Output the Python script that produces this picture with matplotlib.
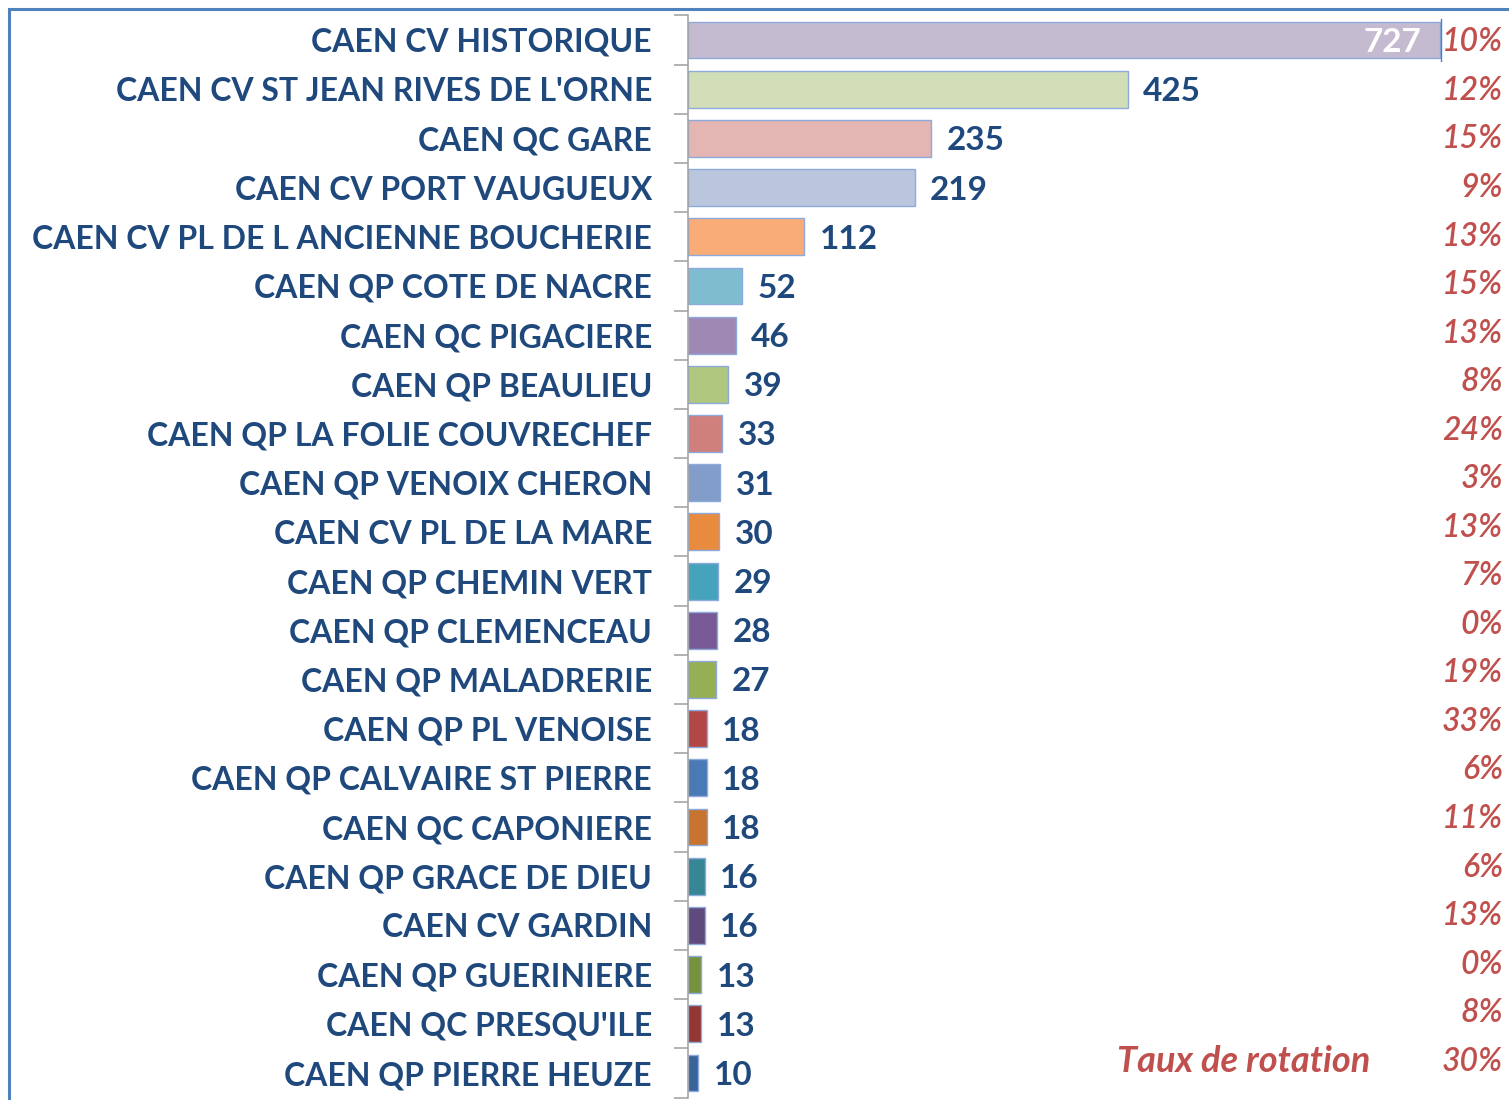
import matplotlib.pyplot as plt
from matplotlib.patches import Rectangle
from matplotlib.transforms import blended_transform_factory

categories = [
    "CAEN CV HISTORIQUE", "CAEN CV ST JEAN RIVES DE L'ORNE", "CAEN QC GARE",
    "CAEN CV PORT VAUGUEUX", "CAEN CV PL DE L ANCIENNE BOUCHERIE",
    "CAEN QP COTE DE NACRE", "CAEN QC PIGACIERE", "CAEN QP BEAULIEU",
    "CAEN QP LA FOLIE COUVRECHEF", "CAEN QP VENOIX CHERON", "CAEN CV PL DE LA MARE",
    "CAEN QP CHEMIN VERT", "CAEN QP CLEMENCEAU", "CAEN QP MALADRERIE",
    "CAEN QP PL VENOISE", "CAEN QP CALVAIRE ST PIERRE", "CAEN QC CAPONIERE",
    "CAEN QP GRACE DE DIEU", "CAEN CV GARDIN", "CAEN QP GUERINIERE",
    "CAEN QC PRESQU'ILE", "CAEN QP PIERRE HEUZE",
]
values = [727, 425, 235, 219, 112, 52, 46, 39, 33, 31, 30, 29, 28, 27,
          18, 18, 18, 16, 16, 13, 13, 10]
rotation = ["10%", "12%", "15%", "9%", "13%", "15%", "13%", "8%", "24%", "3%",
            "13%", "7%", "0%", "19%", "33%", "6%", "11%", "6%", "13%", "0%",
            "8%", "30%"]
bar_colors = [
    "#C4BBD1", "#D1DEB8", "#E3B5B3", "#B9C6DE", "#F9AC78", "#7EBCD0",
    "#9E89B4", "#AFC77F", "#CF7F7C", "#829DC9", "#E88B3F", "#45A4BC",
    "#775A95", "#94AF54", "#B14846", "#4A7AB5", "#C6742F", "#368696",
    "#5F4A7E", "#76923C", "#943634", "#38649A",
]

NAVY = "#1F497D"
RED = "#C0504D"
FONT = "Lato"

W, H = 1509, 1100
fig = plt.figure(figsize=(W / 100, H / 100), dpi=100)

# outer blue frame (cut at right / bottom like the source)
fig.patches.append(Rectangle((9 / W, -0.05), 1.1, (H - 9) / H + 0.05,
                             transform=fig.transFigure, fill=False,
                             edgecolor="#4F81BD", linewidth=2.2))

ax_left = 688 / W
ax_bottom = (H - 1097.6) / H
ax_top = (H - 15.4) / H
ax = fig.add_axes([ax_left, ax_bottom, 1 - ax_left, ax_top - ax_bottom])
ax.patch.set_alpha(0)

y = list(range(len(categories)))
ax.barh(y, values, height=0.75, color=bar_colors, edgecolor="#8EA9DB", linewidth=1)
ax.set_ylim(len(categories) - 0.5, -0.5)
ax.set_xlim(0, (W - 688) / 1.0344)

for i, v in enumerate(values):
    if i == 0:
        ax.text(v - 18, i + 0.05, str(v), ha="right", va="center", color="white",
                fontsize=24, fontweight="bold", family=FONT)
    else:
        ax.text(v + 15, i + 0.05, str(v), ha="left", va="center", color=NAVY,
                fontsize=24, fontweight="bold", family=FONT)

ax.set_yticks(y)
ax.set_yticklabels(categories, fontsize=23, fontweight="bold", color=NAVY, family=FONT)
ax.tick_params(axis="y", which="major", length=0, pad=26)
ax.set_yticks([i - 0.5 for i in range(len(categories) + 1)], minor=True)
ax.tick_params(axis="y", which="minor", length=10, color="#A6A6A6", width=1.2)
ax.set_xticks([])
for s in ["top", "right", "bottom"]:
    ax.spines[s].set_visible(False)
ax.spines["left"].set_color("#A6A6A6")
ax.spines["left"].set_linewidth(1.2)

# rotation rates, slightly different spacing from the bars
ax2 = ax.twinx()
ax2.set_ylim(21.74, -0.556)
ax2.axis("off")
tr = blended_transform_factory(ax2.transAxes, ax2.transData)
x_pct = (1503 - 688) / (W - 688)
for i, p in enumerate(rotation):
    ax2.text(x_pct, i, p, transform=tr, ha="right", va="center", color=RED,
             fontsize=23, fontstyle="italic", fontweight="semibold", family=FONT)
ax2.text((1370 - 688) / (W - 688), len(rotation) - 1, "Taux de rotation", transform=tr,
         ha="right", va="center", color=RED, fontsize=26, fontstyle="italic",
         fontweight="bold", family=FONT)

# thin marker at the end of the first bar
ax.plot([values[0] + 1, values[0] + 1], [-0.42, 0.42], color="#4F81BD", lw=1)

fig.savefig("out.png", dpi=100)
